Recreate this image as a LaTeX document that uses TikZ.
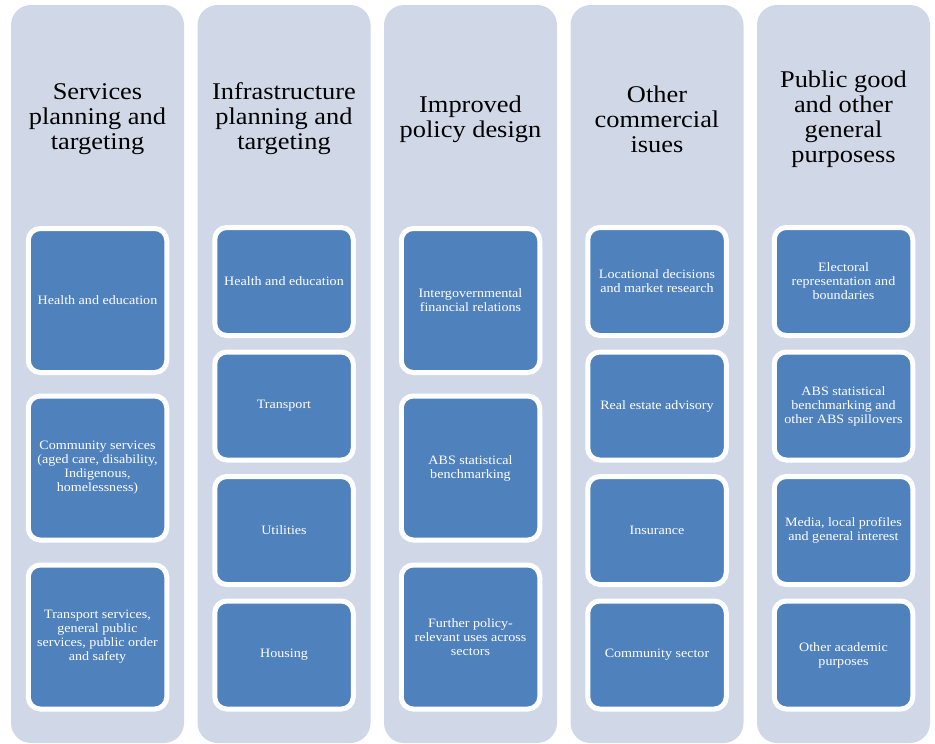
\documentclass[tikz,border=0pt]{standalone}
\usepackage{fontspec}
\setmainfont{Liberation Serif}[FakeStretch=1.1]
\definecolor{colbg}{HTML}{D0D8E8}
\definecolor{itemblue}{HTML}{4F81BD}

\begin{document}
\begin{tikzpicture}[
    x=1pt, y=-1pt,
    column/.style={fill=colbg, rounded corners=20pt, minimum width=173pt,
                   minimum height=738pt, inner sep=0pt},
    head/.style={align=center, font=\fontsize{24}{25}\selectfont},
    item/.style={draw=white, line width=5pt, fill=itemblue, rounded corners=12pt,
                 minimum width=138.5pt, align=center, text=white,
                 font=\fontsize{12.8}{14}\selectfont},
    tall/.style={item, minimum height=144pt},
    short/.style={item, minimum height=108pt}
]
    \useasboundingbox (0,0) rectangle (935,744);

    % Columns
    \node[column] (svc)    at (97.5, 374) {};
    \node[column] (infra)  at (284, 374) {};
    \node[column] (policy) at (470.5, 374) {};
    \node[column] (comm)   at (657, 374) {};
    \node[column] (public) at (843.5, 374) {};

    % Headings
    \node[head] (svchead)    at (97.5, 119) {Services\\planning and\\targeting};
    \node[head] (infrahead)  at (284, 119) {Infrastructure\\planning and\\targeting};
    \node[head] (policyhead) at (470.5, 119) {Improved\\policy design};
    \node[head] (commhead)   at (657, 119) {Other\\commercial\\isues};
    \node[head] (publichead) at (843.5, 119) {Public good\\and other\\general\\purposess};

    % Services planning
    \node[tall] (svc1) at (97.5, 300.5) {Health and education};
    \node[tall] (svc2) at (97.5, 468) {Community services\\(aged care, disability,\\Indigenous,\\homelessness)};
    \node[tall] (svc3) at (97.5, 637) {Transport services,\\general public\\services, public order\\and safety};

    % Infrastructure planning
    \node[short] (infra1) at (284, 281.5) {Health and education};
    \node[short] (infra2) at (284, 406) {Transport};
    \node[short] (infra3) at (284, 530.5) {Utilities};
    \node[short] (infra4) at (284, 655) {Housing};

    % Policy design
    \node[tall] (policy1) at (470.5, 300.5) {Intergovernmental\\financial relations};
    \node[tall] (policy2) at (470.5, 468) {ABS statistical\\benchmarking};
    \node[tall] (policy3) at (470.5, 637) {Further policy-\\relevant uses across\\sectors};

    % Commercial
    \node[short] (comm1) at (657, 281.5) {Locational decisions\\and market research};
    \node[short] (comm2) at (657, 406) {Real estate advisory};
    \node[short] (comm3) at (657, 530.5) {Insurance};
    \node[short] (comm4) at (657, 655) {Community sector};

    % Public good
    \node[short] (public1) at (843.5, 281.5) {Electoral\\representation and\\boundaries};
    \node[short] (public2) at (843.5, 406) {ABS statistical\\benchmarking and\\other ABS spillovers};
    \node[short] (public3) at (843.5, 530.5) {Media, local profiles\\and general interest};
    \node[short] (public4) at (843.5, 655) {Other academic\\purposes};
\end{tikzpicture}
\end{document}
